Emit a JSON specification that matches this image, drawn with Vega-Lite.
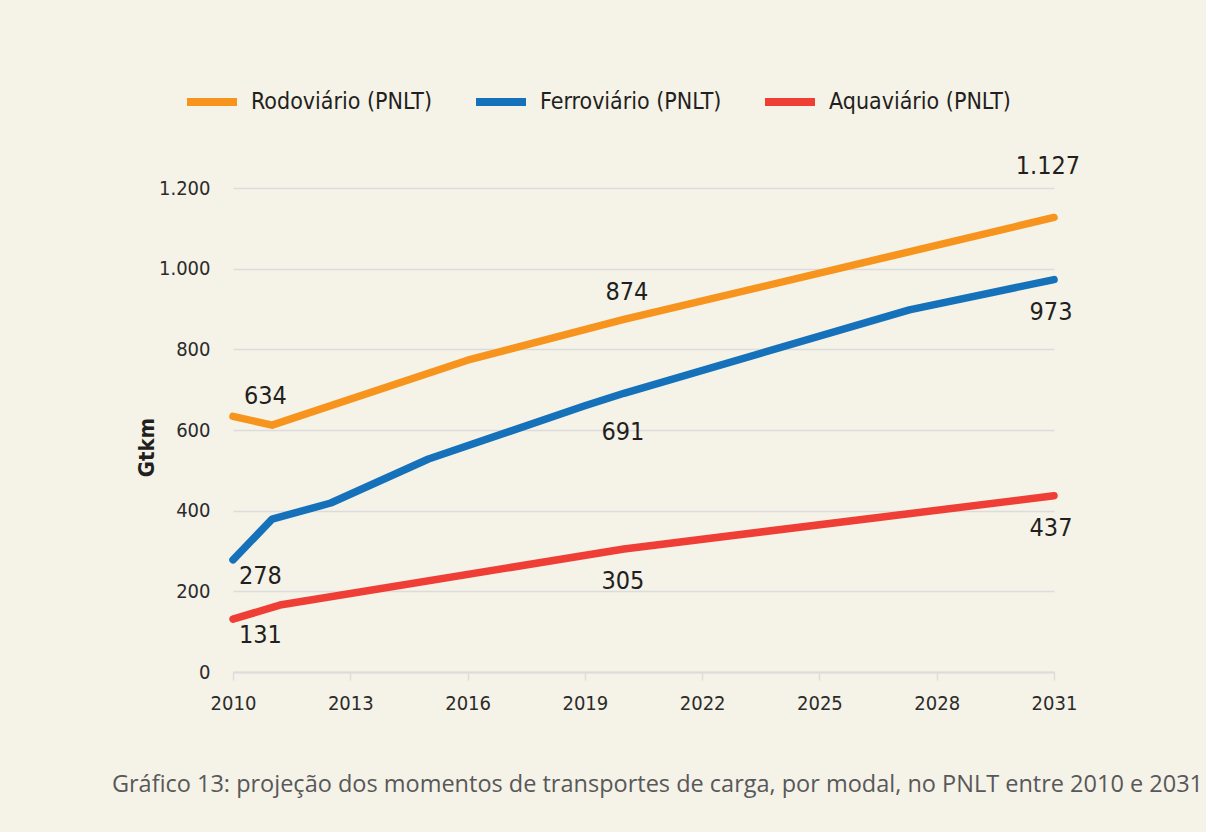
{
  "$schema": "https://vega.github.io/schema/vega-lite/v6.json",
  "width": 821,
  "height": 484,
  "autosize": {"type": "none"},
  "padding": {"left": 233, "top": 188, "right": 152, "bottom": 160},
  "background": "#f5f2e7",
  "title": {
    "text": "Gráfico 13: projeção dos momentos de transportes de carga, por modal, no PNLT entre 2010 e 2031",
    "orient": "bottom",
    "anchor": "end",
    "frame": "group",
    "dx": 149,
    "offset": 60,
    "font": "Open Sans",
    "fontSize": 23.5,
    "fontWeight": "normal",
    "color": "#58585a"
  },
  "config": {
    "locale": {"number": {"decimal": ",", "thousands": ".", "grouping": [3], "currency": ["R$", ""]}},
    "view": {"stroke": null},
    "font": "DejaVu Sans Condensed, Roboto"
  },
  "datasets": {
    "pnlt": [
      {"serie": "Rodoviário (PNLT)", "ano": 2010, "valor": 634},
      {"serie": "Rodoviário (PNLT)", "ano": 2011, "valor": 612},
      {"serie": "Rodoviário (PNLT)", "ano": 2016, "valor": 773},
      {"serie": "Rodoviário (PNLT)", "ano": 2020, "valor": 874},
      {"serie": "Rodoviário (PNLT)", "ano": 2031, "valor": 1127},
      {"serie": "Ferroviário (PNLT)", "ano": 2010, "valor": 278},
      {"serie": "Ferroviário (PNLT)", "ano": 2011, "valor": 379},
      {"serie": "Ferroviário (PNLT)", "ano": 2012.5, "valor": 419},
      {"serie": "Ferroviário (PNLT)", "ano": 2015, "valor": 528},
      {"serie": "Ferroviário (PNLT)", "ano": 2019, "valor": 660},
      {"serie": "Ferroviário (PNLT)", "ano": 2020, "valor": 691},
      {"serie": "Ferroviário (PNLT)", "ano": 2027.3, "valor": 898},
      {"serie": "Ferroviário (PNLT)", "ano": 2031, "valor": 973},
      {"serie": "Aquaviário (PNLT)", "ano": 2010, "valor": 131},
      {"serie": "Aquaviário (PNLT)", "ano": 2011.2, "valor": 166},
      {"serie": "Aquaviário (PNLT)", "ano": 2020, "valor": 305},
      {"serie": "Aquaviário (PNLT)", "ano": 2031, "valor": 437}
    ]
  },
  "data": {"name": "pnlt"},
  "encoding": {
    "x": {
      "field": "ano",
      "type": "quantitative",
      "scale": {"domain": [2010, 2031], "nice": false, "zero": false},
      "axis": {
        "title": null,
        "values": [2010, 2013, 2016, 2019, 2022, 2025, 2028, 2031],
        "format": "d",
        "grid": false,
        "labelFlush": false,
        "domainColor": "#dcdcdc",
        "domainWidth": 2,
        "tickColor": "#dcdcdc",
        "tickWidth": 1.5,
        "tickSize": 8,
        "labelPadding": 13,
        "labelFontSize": 20,
        "labelColor": "#2b2b2b",
        "labelFont": "DejaVu Sans Condensed, Roboto"
      }
    },
    "y": {
      "field": "valor",
      "type": "quantitative",
      "scale": {"domain": [0, 1200], "nice": false},
      "axis": {
        "title": "Gtkm",
        "titleFontSize": 22,
        "titleFontWeight": "bold",
        "titleColor": "#231f20",
        "titleFont": "DejaVu Sans Condensed, Roboto",
        "titlePadding": 0,
        "titleY": 259,
        "values": [0, 200, 400, 600, 800, 1000, 1200],
        "format": ",d",
        "domain": false,
        "ticks": false,
        "gridColor": "#dcdcdc",
        "gridWidth": 1.5,
        "labelPadding": 23,
        "labelFontSize": 20,
        "labelColor": "#2b2b2b",
        "labelFont": "DejaVu Sans Condensed, Roboto"
      }
    }
  },
  "layer": [
    {
      "mark": {"type": "line", "strokeWidth": 7.5, "strokeCap": "round", "strokeJoin": "round"},
      "encoding": {
        "color": {
          "field": "serie",
          "type": "nominal",
          "scale": {
            "domain": ["Rodoviário (PNLT)", "Ferroviário (PNLT)", "Aquaviário (PNLT)"],
            "range": ["#f7941d", "#1571ba", "#ef3e36"]
          },
          "legend": {
            "title": null,
            "orient": "none",
            "direction": "horizontal",
            "legendX": -50,
            "legendY": -115,
            "symbolType": "stroke",
            "symbolSize": 2500,
            "symbolStrokeWidth": 8,
            "labelFontSize": 23,
            "labelLimit": 400,
            "labelColor": "#231f20",
            "labelFont": "DejaVu Sans Condensed, Roboto",
            "labelOffset": 10,
            "columnPadding": 27,
            "padding": 0
          }
        }
      }
    },
    {
      "transform": [{"filter": "datum.ano == 2010 && datum.serie == 'Rodoviário (PNLT)'"}],
      "mark": {"type": "text", "align": "left", "baseline": "middle", "dx": 11, "dy": -20, "fontSize": 25, "fontWeight": 500, "color": "#231f20", "font": "DejaVu Sans Condensed, Roboto"},
      "encoding": {"text": {"field": "valor", "type": "quantitative", "format": ",d"}}
    },
    {
      "transform": [{"filter": "datum.ano == 2010 && datum.serie != 'Rodoviário (PNLT)'"}],
      "mark": {"type": "text", "align": "left", "baseline": "middle", "dx": 6, "dy": 16, "fontSize": 25, "fontWeight": 500, "color": "#231f20", "font": "DejaVu Sans Condensed, Roboto"},
      "encoding": {"text": {"field": "valor", "type": "quantitative", "format": ",d"}}
    },
    {
      "transform": [{"filter": "datum.ano == 2020 && datum.serie == 'Rodoviário (PNLT)'"}],
      "mark": {"type": "text", "align": "center", "baseline": "middle", "dx": 3, "dy": -27, "fontSize": 25, "fontWeight": 500, "color": "#231f20", "font": "DejaVu Sans Condensed, Roboto"},
      "encoding": {"text": {"field": "valor", "type": "quantitative", "format": ",d"}}
    },
    {
      "transform": [{"filter": "datum.ano == 2020 && datum.serie == 'Ferroviário (PNLT)'"}],
      "mark": {"type": "text", "align": "center", "baseline": "middle", "dx": -1, "dy": 39, "fontSize": 25, "fontWeight": 500, "color": "#231f20", "font": "DejaVu Sans Condensed, Roboto"},
      "encoding": {"text": {"field": "valor", "type": "quantitative", "format": ",d"}}
    },
    {
      "transform": [{"filter": "datum.ano == 2020 && datum.serie == 'Aquaviário (PNLT)'"}],
      "mark": {"type": "text", "align": "center", "baseline": "middle", "dx": -1, "dy": 32, "fontSize": 25, "fontWeight": 500, "color": "#231f20", "font": "DejaVu Sans Condensed, Roboto"},
      "encoding": {"text": {"field": "valor", "type": "quantitative", "format": ",d"}}
    },
    {
      "transform": [{"filter": "datum.ano == 2031 && datum.serie == 'Rodoviário (PNLT)'"}],
      "mark": {"type": "text", "align": "center", "baseline": "middle", "dx": -6, "dy": -51, "fontSize": 25, "fontWeight": 500, "color": "#231f20", "font": "DejaVu Sans Condensed, Roboto"},
      "encoding": {"text": {"field": "valor", "type": "quantitative", "format": ",d"}}
    },
    {
      "transform": [{"filter": "datum.ano == 2031 && datum.serie != 'Rodoviário (PNLT)'"}],
      "mark": {"type": "text", "align": "center", "baseline": "middle", "dx": -3, "dy": 32, "fontSize": 25, "fontWeight": 500, "color": "#231f20", "font": "DejaVu Sans Condensed, Roboto"},
      "encoding": {"text": {"field": "valor", "type": "quantitative", "format": ",d"}}
    }
  ]
}
